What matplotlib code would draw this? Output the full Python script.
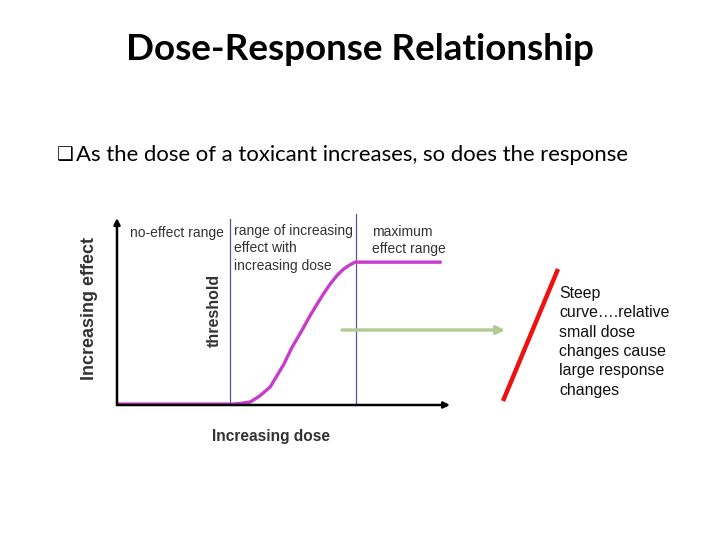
import matplotlib.pyplot as plt

# dose-response curve (dose 0-10, effect 0-10)
dose = [0.0, 3.48, 3.69, 4.0, 4.29, 4.6, 5.0, 5.25, 5.6, 5.8, 6.0, 6.19,
        6.4, 6.61, 6.8, 6.97, 7.15, 9.75]
effect = [0.05, 0.05, 0.08, 0.16, 0.49, 0.97, 2.16, 3.08, 4.16, 4.81, 5.4,
          5.95, 6.5, 6.97, 7.3, 7.51, 7.68, 7.68]
threshold_dose = 3.39
max_effect_dose = 7.18

title = "Dose-Response Relationship"
bullet = "As the dose of a toxicant increases, so does the response"
note = "Steep\ncurve\u2026.relative\nsmall dose\nchanges cause\nlarge response\nchanges"

W, H = 720, 540
fig = plt.figure(figsize=(7.2, 5.4), dpi=100)


def px(x, y):
    return x / W, 1 - y / H


# slide text
fig.text(*px(360, 49), title, ha="center", va="center", fontsize=26.5,
         fontweight="bold", family=["Lato", "DejaVu Sans"])
fig.text(*px(57, 155), "\u2751", ha="left", va="center", fontsize=13.5,
         family=["DejaVu Sans"])
fig.text(*px(76, 155), bullet, ha="left", va="center", fontsize=15.9,
         family=["Lato", "DejaVu Sans"])

# chart axes
ax = fig.add_axes([117 / W, 1 - 405 / H, (450 - 117) / W, (405 - 219) / H])
ax.set_xlim(0, 10)
ax.set_ylim(0, 10)
ax.axis("off")

ax.plot(dose, effect, color="#c83ccc", lw=2.4, solid_capstyle="butt",
        solid_joinstyle="round", clip_on=False, zorder=3)
ax.plot([threshold_dose, threshold_dose], [0, 10], color="#55579a", lw=0.9)
ax.plot([max_effect_dose, max_effect_dose], [0, 10.25], color="#55579a",
        lw=0.9, clip_on=False)

# axis arrows
arrow = dict(arrowstyle="-|>", color="black", lw=1.8, mutation_scale=9,
             shrinkA=0, shrinkB=0)
ax.annotate("", xy=(0, 10.05), xytext=(0, 0), arrowprops=arrow,
            annotation_clip=False)
ax.annotate("", xy=(10, 0), xytext=(0, 0), arrowprops=arrow,
            annotation_clip=False)

lab = dict(color="#333333", fontsize=10, family=["Liberation Sans"])
fig.text(*px(130, 233), "no-effect range", ha="left", va="center", **lab)
fig.text(*px(234, 224), "range of increasing\neffect with\nincreasing dose",
         ha="left", va="top", linespacing=1.3, **lab)
fig.text(*px(372, 232), "maximum", ha="left", va="center", **lab)
fig.text(*px(372, 249), "effect range", ha="left", va="center", **lab)
fig.text(*px(214, 310), "threshold", ha="center", va="center",
         rotation=90, color="#333333", fontsize=11.5, fontweight="bold",
         family=["Liberation Sans"])
fig.text(*px(90, 309), "Increasing effect", ha="center", va="center",
         rotation=90, color="#333333", fontsize=13, fontweight="bold",
         family=["Liberation Sans"])
fig.text(*px(271, 436), "Increasing dose", ha="center", va="center",
         color="#333333", fontsize=11.2, fontweight="bold",
         family=["Liberation Sans"])

# green arrow and red steep line
top = fig.add_axes([0, 0, 1, 1], facecolor="none")
top.set_xlim(0, W)
top.set_ylim(H, 0)
top.axis("off")
top.annotate("", xy=(505, 330), xytext=(342, 330),
             arrowprops=dict(arrowstyle="-|>", color="#b4c993", lw=2.4,
                             mutation_scale=12, shrinkA=0, shrinkB=0))
top.plot([503, 558], [401, 269], color="#ee1111", lw=3.2,
         solid_capstyle="butt")
top.text(559, 286, note, ha="left", va="top", fontsize=11.4,
         linespacing=1.36, color="#111111", family=["Liberation Sans"])

fig.savefig("out.png", dpi=100)
